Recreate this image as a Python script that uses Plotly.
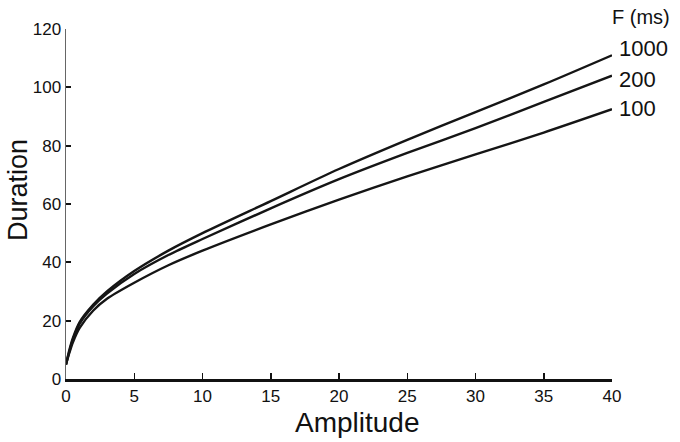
import plotly.graph_objects as go

amplitude = [0, 0.25, 0.5, 1, 2, 3, 5, 7.5, 10, 15, 20, 25, 30, 35, 40]
dur_1000 = [5, 10, 14, 19.5, 25.5, 30, 37, 44, 50, 61, 72, 82, 91.5, 101, 111]
dur_200 = [5, 9.5, 13.5, 19, 25, 29.3, 36, 42.5, 48, 58.5, 68.5, 77.5, 86, 95, 104]
dur_100 = [5, 9, 12.5, 17.5, 23.5, 27.5, 33, 39, 44, 53, 61.5, 69.5, 77, 84.5, 92.5]

series = [("1000", dur_1000), ("200", dur_200), ("100", dur_100)]
label_y = [113.4, 102.8, 92.6]

x_ticks = [0, 5, 10, 15, 20, 25, 30, 35, 40]
y_ticks = [0, 20, 40, 60, 80, 100, 120]

FONT = "Liberation Sans, Arial, Helvetica, sans-serif"

fig = go.Figure()
for name, vals in series:
    fig.add_trace(go.Scatter(x=amplitude, y=vals, mode="lines", name=name,
                             line=dict(color="#151515", width=2.4, shape="spline", smoothing=0.8),
                             showlegend=False, hoverinfo="skip"))

annotations = [
    dict(text="F (ms)", xref="paper", yref="paper", x=1, y=(379 - 17) / 350, xshift=-2,
         xanchor="left", yanchor="middle", showarrow=False,
         font=dict(family=FONT, size=20, color="#111")),
]
for (name, _), ly in zip(series, label_y):
    annotations.append(dict(text=name, xref="paper", yref="y", x=1, y=ly, xshift=5,
                            xanchor="left", yanchor="middle", showarrow=False,
                            font=dict(family=FONT, size=22, color="#111")))
annotations.append(dict(text="Duration", xref="paper", yref="paper", x=-48 / 546, y=0.54,
                        textangle=-90, xanchor="center", yanchor="middle", showarrow=False,
                        font=dict(family=FONT, size=27, color="#111")))
annotations.append(dict(text="Amplitude", xref="paper", yref="paper", x=0.533, y=-0.074,
                        xanchor="center", yanchor="top", showarrow=False,
                        font=dict(family=FONT, size=28, color="#111")))

fig.update_layout(
    width=680, height=442,
    margin=dict(l=66, r=68, t=29, b=63),
    paper_bgcolor="white", plot_bgcolor="white",
    font=dict(family=FONT, size=17, color="#111"),
    annotations=annotations,
    xaxis=dict(range=[0, 40], tickvals=x_ticks, ticks="inside", ticklen=6, tickwidth=1.5,
               tickcolor="#111", showline=True, linecolor="#111", linewidth=2.5,
               showgrid=False, zeroline=False, tickfont=dict(size=17)),
    yaxis=dict(range=[0, 120], tickvals=y_ticks, ticks="inside", ticklen=5, tickwidth=2,
               tickcolor="#111", showline=True, linecolor="#666", linewidth=1.5,
               showgrid=False, zeroline=False, tickfont=dict(size=17)),
)

# remove the browser's default page margin so the figure sits at the top-left corner
fig.write_html("out.html",
               config={"displayModeBar": False, "staticPlot": True},
               post_script="document.body.style.margin='0';document.body.style.overflow='hidden';")
